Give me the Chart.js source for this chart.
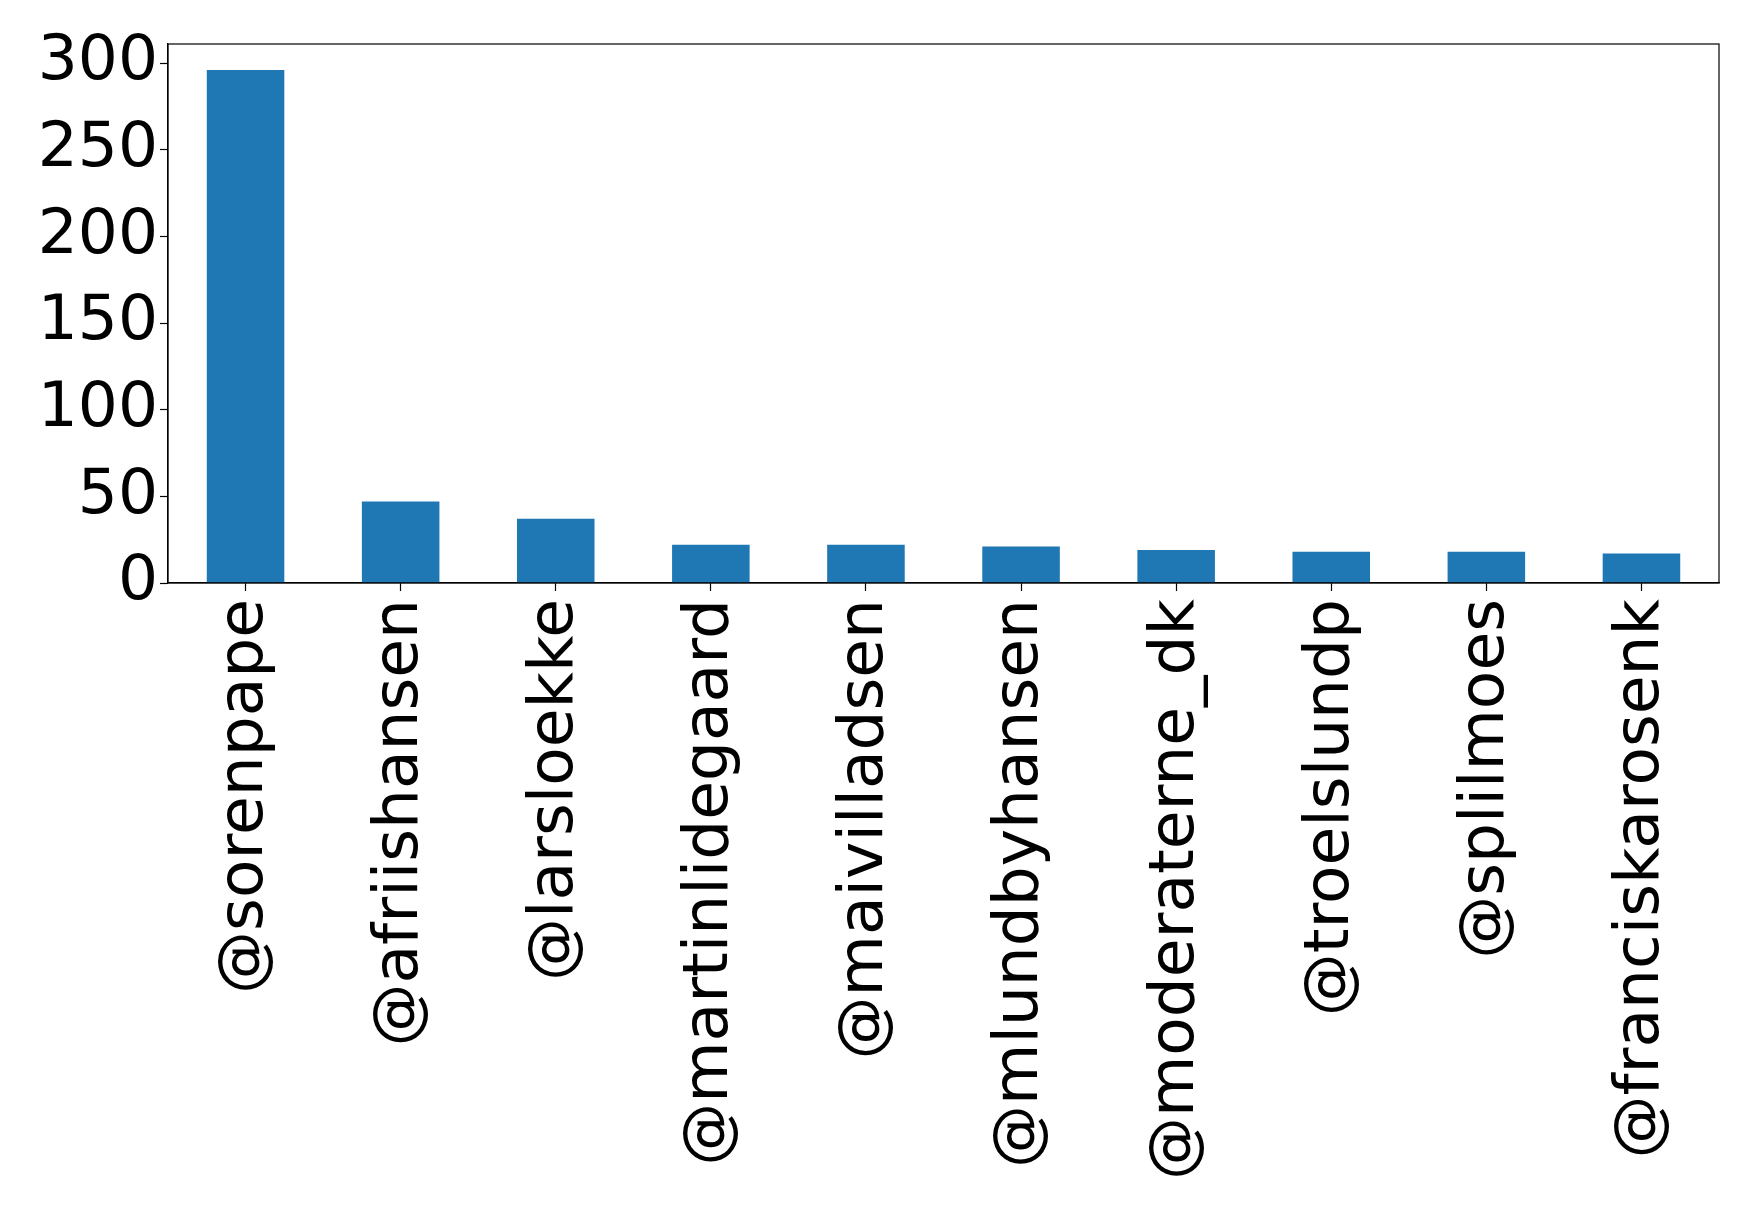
<!DOCTYPE html>
<html>
<head>
<meta charset="utf-8">
<script src="https://cdn.jsdelivr.net/npm/chart.js@4"></script>
<style>
  body { margin: 0; background: #fff; }
  #wrap { width: 1759px; height: 1209px; }
</style>
</head>
<body>
<div id="wrap"><canvas id="chartAccounts" width="1759" height="1209"></canvas></div>
<script>
const accounts = ["@sorenpape", "@afriishansen", "@larsloekke", "@martinlidegaard", "@maivilladsen", "@mlundbyhansen", "@moderaterne_dk", "@troelslundp", "@splilmoes", "@franciskarosenk"];
const counts = [296, 47, 37, 22, 22, 21, 19, 18, 18, 17];
const yTicks = [0, 50, 100, 150, 200, 250, 300];

// draws the full box round the plot, like matplotlib
const frame = {
  id: "frame",
  afterDraw(chart) {
    const { ctx, chartArea: a } = chart;
    ctx.save();
    ctx.strokeStyle = "#000";
    ctx.lineWidth = 1.2;
    ctx.strokeRect(a.left, a.top, a.right - a.left, a.bottom - a.top);
    ctx.restore();
  },
};

document.addEventListener("DOMContentLoaded", () => {
  new Chart(document.querySelector("#chartAccounts"), {
    type: "bar",
    data: {
      labels: accounts,
      datasets: [
        {
          label: "count",
          data: counts,
          backgroundColor: "#1f77b4",
          borderWidth: 0,
          barPercentage: 0.5,
          categoryPercentage: 1.0,
        },
      ],
    },
    options: {
      responsive: false,
      animation: false,
      devicePixelRatio: 1,
      layout: { padding: { top: 44, right: 40, left: 0, bottom: 0 } },
      plugins: {
        legend: { display: false },
        tooltip: { enabled: false },
      },
      scales: {
        x: {
          grid: { offset: false, drawOnChartArea: false, color: "#000", tickLength: 8, tickWidth: 1.2 },
          border: { color: "#000", width: 1.2 },
          ticks: {
            color: "#000",
            font: { family: "DejaVu Sans", size: 63 },
            minRotation: 90,
            maxRotation: 90,
            autoSkip: false,
            padding: 8,
          },
          afterFit(scale) { scale.height = 626; },
        },
        y: {
          min: 0,
          max: 311,
          afterBuildTicks(scale) { scale.ticks = yTicks.map((v) => ({ value: v })); },
          grid: { drawOnChartArea: false, color: "#000", tickLength: 8, tickWidth: 1.2 },
          border: { color: "#000", width: 1.2 },
          ticks: {
            color: "#000",
            font: { family: "DejaVu Sans", size: 63 },
            padding: 2,
          },
          afterFit(scale) { scale.width = 168; },
        },
      },
    },
    plugins: [frame],
  });
});
</script>
</body>
</html>
